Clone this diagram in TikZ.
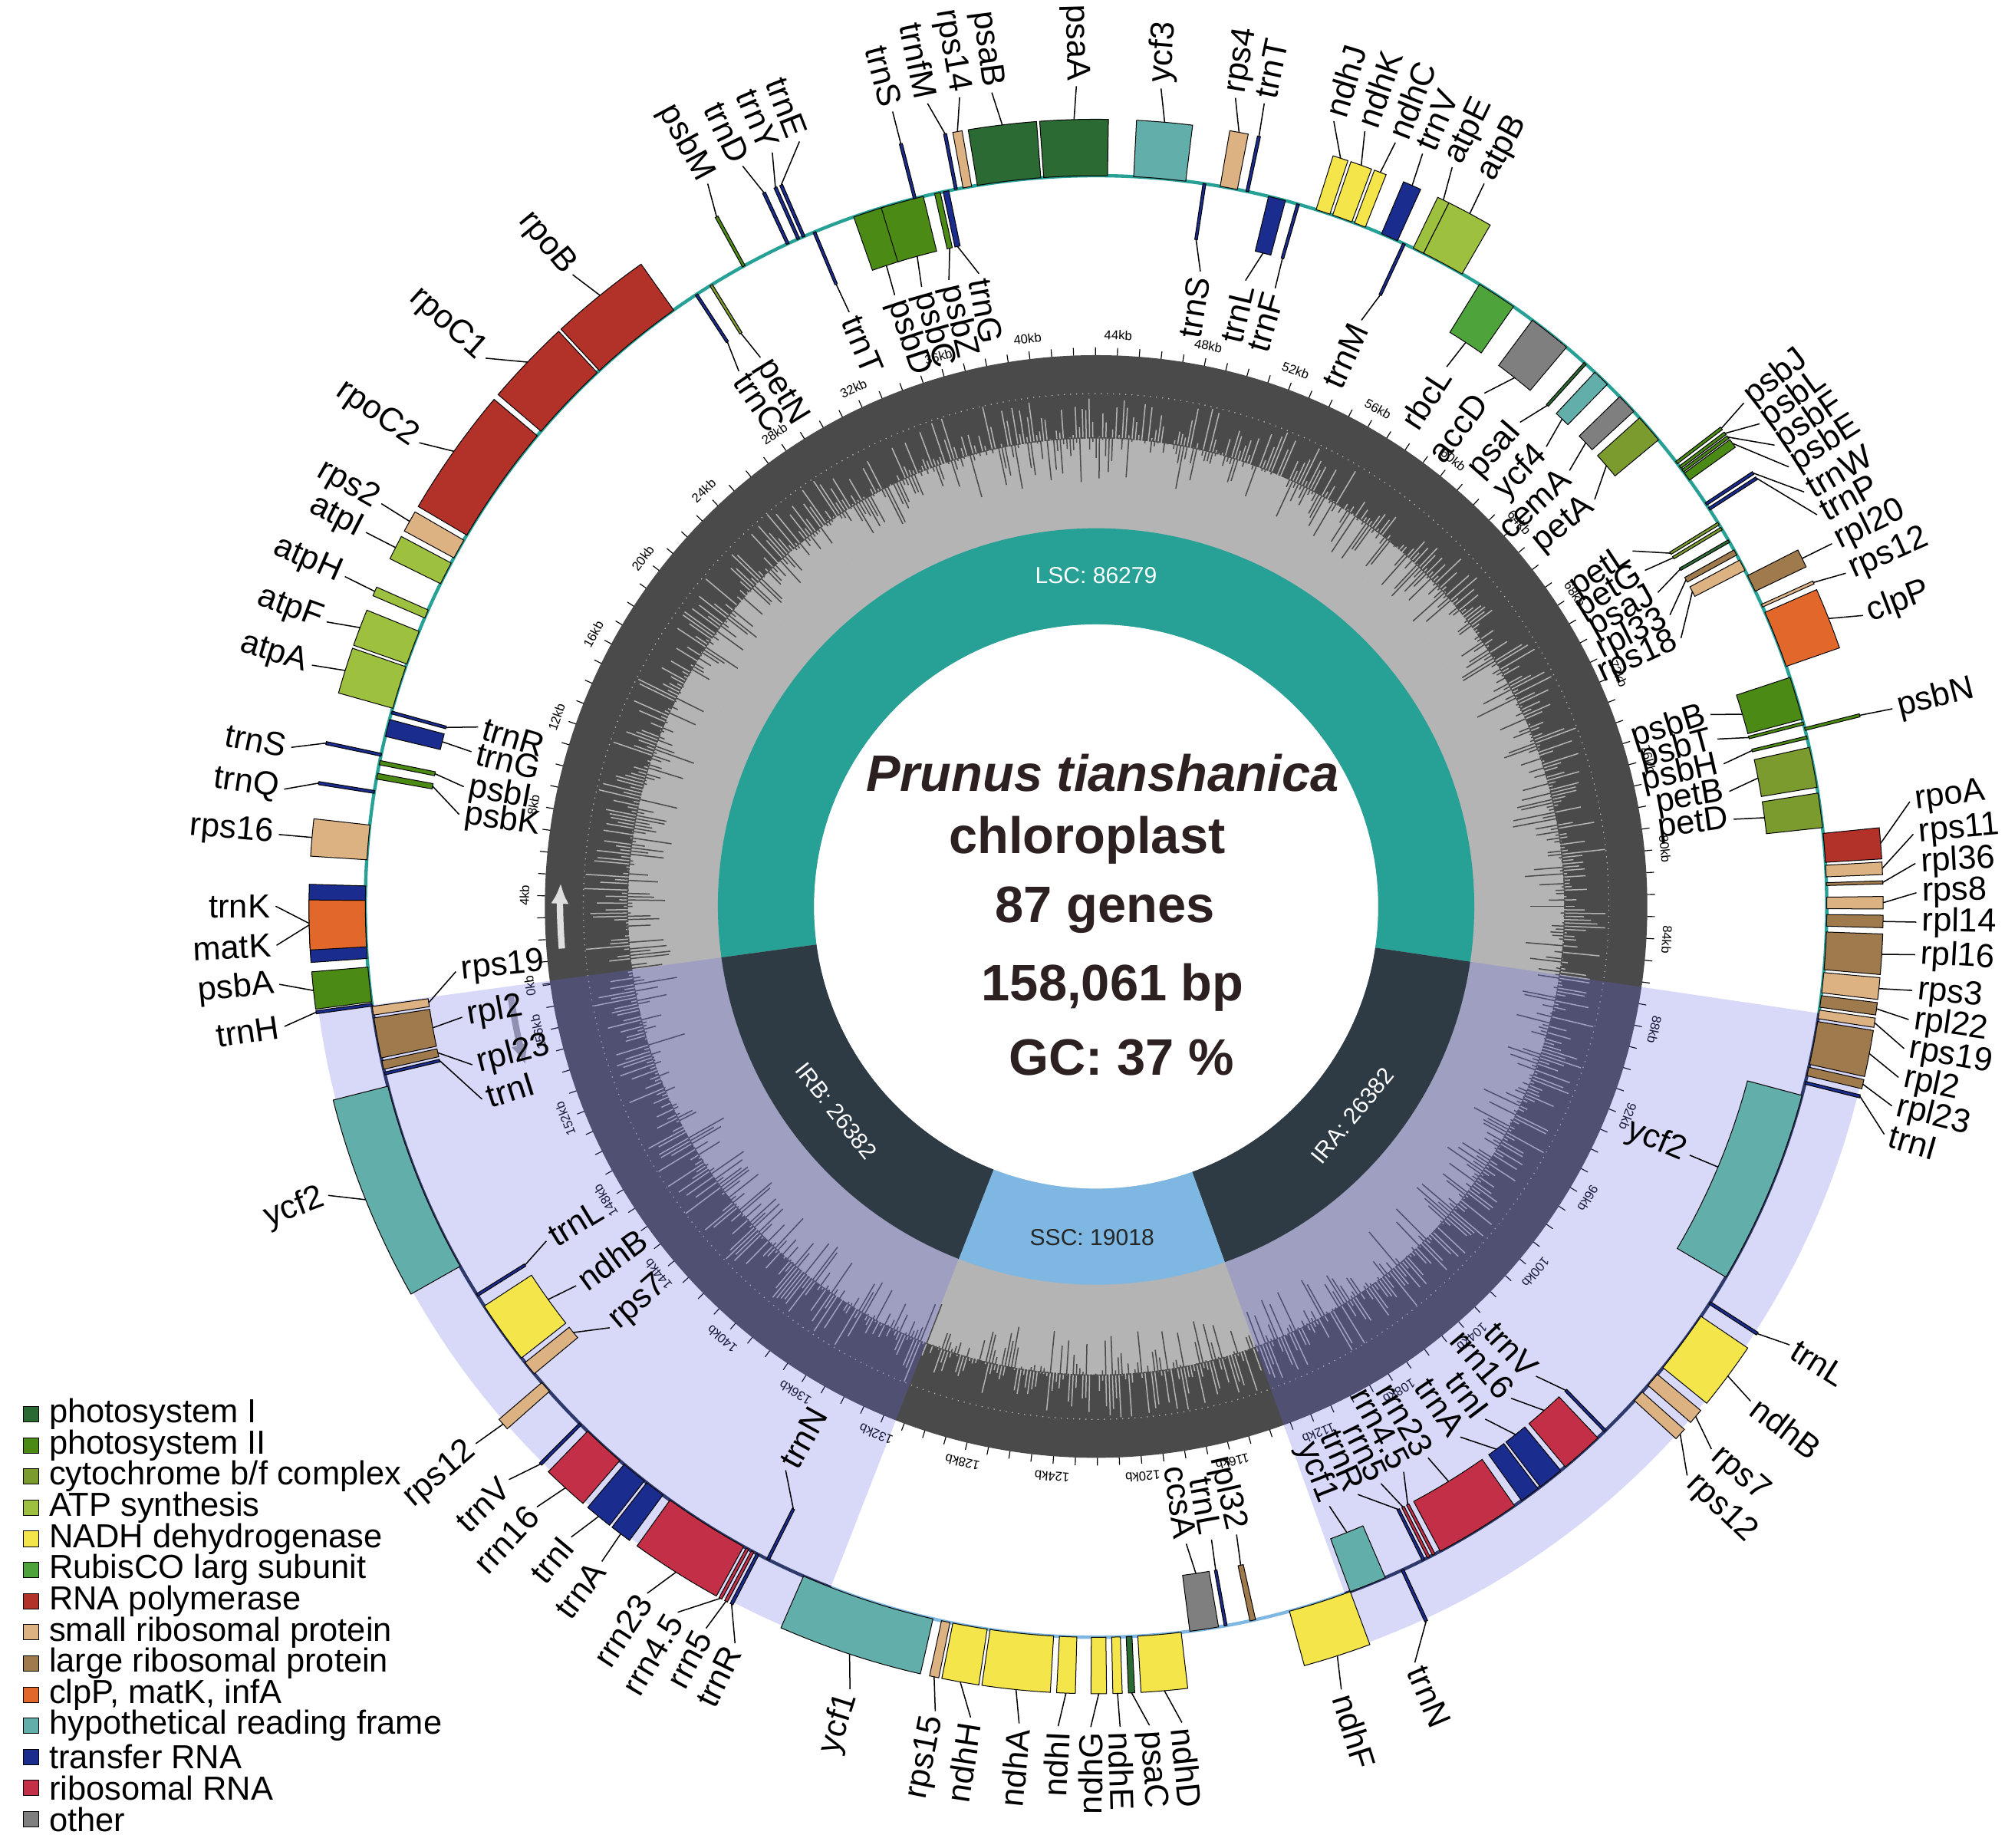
\documentclass[tikz,border=0pt]{standalone}
\usepackage{fontspec}
\setmainfont{Liberation Sans}
\usetikzlibrary{arrows.meta}
\definecolor{psi}{HTML}{2B6A33}
\definecolor{psii}{HTML}{4B8B15}
\definecolor{cytb}{HTML}{7B9B2E}
\definecolor{atp}{HTML}{9DC03E}
\definecolor{nadh}{HTML}{F4E64A}
\definecolor{rubisco}{HTML}{4EA43B}
\definecolor{rnap}{HTML}{B23129}
\definecolor{ssu}{HTML}{DCB283}
\definecolor{lsu}{HTML}{9E7A4C}
\definecolor{clp}{HTML}{E2672A}
\definecolor{hyp}{HTML}{62AEAA}
\definecolor{trna}{HTML}{1A2D8F}
\definecolor{rrna}{HTML}{C32F46}
\definecolor{other}{HTML}{7F7F7F}
\definecolor{gdark}{HTML}{4A4A4A}
\definecolor{glight}{HTML}{B4B4B4}
\definecolor{irov}{RGB}{100,100,235}
\definecolor{lscc}{HTML}{27A096}
\definecolor{irc}{HTML}{2E3B45}
\definecolor{sscc}{HTML}{7DB7E2}
\definecolor{irline}{HTML}{2D3A6B}
\definecolor{ttl}{HTML}{2D2020}
\newcommand\annfill[5]{\fill[#1] (#2:#5) arc[start angle=#2,end angle=#3,radius=#5] -- (#3:#4) arc[start angle=#3,end angle=#2,radius=#4] -- cycle;}
\tikzset{glab/.style={inner sep=0pt,font=\fontsize{13}{13}\selectfont},
  leglab/.style={anchor=west,inner sep=0pt,font=\fontsize{13}{13}\selectfont}}
\begin{document}
\begin{tikzpicture}[x=0.5pt,y=0.5pt]
\useasboundingbox (0,0) rectangle (1564,-1441);
\fill[white] (0,0) rectangle (1564,-1441);
\begin{scope}[shift={(855,-707)}]
% GC ring
\fill[gdark] (0,0) circle[radius=430];
\fill[glight] (0,0) circle[radius=365];
\pgfmathsetseed{5}
\foreach \i in {0,...,899}{
  \pgfmathsetmacro\a{\i*0.4}
  \pgfmathsetmacro\hl{365+35*rnd^2}
  \pgfmathsetmacro\dl{366-35*rnd^3}
  \draw[glight,line width=0.45pt] (\a:360) -- (\a:\hl);
  \draw[gdark,line width=0.45pt] (\a:\dl) -- (\a:366);
}
\draw[gray!60,dotted,line width=0.4pt] (0,0) circle[radius=330];
\draw[gray!60,dotted,line width=0.4pt] (0,0) circle[radius=400];
% ticks
\foreach \k in {0,...,158}{
  \pgfmathsetmacro\t{188-2.2776*\k}
  \draw[black,line width=0.35pt] (\t:430) -- (\t:436);
}
\foreach \k in {0,4,...,156}{
  \pgfmathsetmacro\t{188-2.2776*\k}
  \node[inner sep=0pt,rotate=\t-90,font=\fontsize{5}{5}\selectfont] at (\t:446) {\k kb};
}
% arrows
\draw[-{Latex[length=8pt,width=7pt]},gray!25,line width=2.5pt] (184.5:418) arc[start angle=184.5,end angle=177.5,radius=418];
\draw[-{Latex[length=8pt,width=7pt]},gray!75,line width=2.5pt] (188.5:462) arc[start angle=188.5,end angle=195.5,radius=462];
% IR overlays
\fill[irov,opacity=0.25] (0,0) -- (-8.4:612) arc[start angle=-8.4,end angle=-70.1,radius=612] -- cycle;
\fill[irov,opacity=0.25] (0,0) -- (-111.3:612) arc[start angle=-111.3,end angle=-172.25,radius=612] -- cycle;
% inner ring
\annfill{lscc}{187.75}{-8.4}{220}{295}
\annfill{irc}{-8.4}{-70.1}{220}{295}
\annfill{sscc}{-70.1}{-111.3}{220}{295}
\annfill{irc}{-111.3}{-172.25}{220}{295}
\fill[white] (0,0) circle[radius=220];
\node[white,font=\fontsize{9}{9}\selectfont] at (90:258) {LSC: 86279};
\node[white,font=\fontsize{9}{9}\selectfont,rotate=50.8] at (-39.2:258) {IRA: 26382};
\node[black!85,font=\fontsize{9}{9}\selectfont] at (-90.7:258) {SSC: 19018};
\node[white,font=\fontsize{9}{9}\selectfont,rotate=-51.8] at (-141.8:258) {IRB: 26382};
% center text
\node[ttl,font=\fontsize{20}{20}\selectfont\bfseries\itshape] at (5,104) {Prunus tianshanica};
\node[ttl,font=\fontsize{20}{20}\selectfont\bfseries] at (-7,52) {chloroplast};
\node[ttl,font=\fontsize{20}{20}\selectfont\bfseries] at (7,-3) {87 genes};
\node[ttl,font=\fontsize{20}{20}\selectfont\bfseries] at (13,-63) {158,061 bp};
\node[ttl,font=\fontsize{20}{20}\selectfont\bfseries] at (20,-118) {GC: 37 \%};
% genome circle
\draw[lscc,line width=1.3pt] (187.75:570) arc[start angle=187.75,end angle=-8.4,radius=570];
\draw[irline,line width=1.3pt] (-8.4:570) arc[start angle=-8.4,end angle=-70.1,radius=570];
\draw[sscc,line width=1.3pt] (-70.1:570) arc[start angle=-70.1,end angle=-111.3,radius=570];
\draw[irline,line width=1.3pt] (-111.3:570) arc[start angle=-111.3,end angle=-172.25,radius=570];
% genes
\foreach \s/\e/\gc/\d/\lp/\n in {
0.95/1.05/trna/1/0.7/trnH, 1.1/2.3/psii/1/2.0/psbA, 2.6/5.1/trna/1/4.4/trnK, 3.0/4.6/clp/1/3.2/matK,
6.0/7.2/ssu/1/6.6/rps16, 8.3/8.4/trna/1/8.0/trnQ, 8.8/9.0/psii/-1/8.0/psbK, 9.3/9.45/psii/-1/9.1/psbI,
9.6/9.7/trna/1/9.3/trnS, 10.3/10.9/trna/-1/10.5/trnG, 11.1/11.2/trna/-1/11.5/trnR,
11.3/12.8/atp/1/11.9/atpA, 12.9/14.1/atp/1/13.3/atpF, 14.6/14.9/atp/1/14.8/atpH, 15.9/16.7/atp/1/16.3/atpI,
16.9/17.6/ssu/1/17.3/rps2, 17.8/22.0/rnap/1/19.5/rpoC2, 22.2/25.0/rnap/1/22.8/rpoC1, 25.1/28.4/rnap/1/26.5/rpoB,
29.3/29.4/trna/-1/29.1/trnC, 29.9/30.0/cytb/-1/30.1/petN, 31.2/31.3/psii/1/31.5/psbM,
32.9/33.0/trna/1/32.7/trnD, 33.3/33.4/trna/1/33.7/trnY, 33.5/33.6/trna/1/34.6/trnE, 33.9/34.0/trna/-1/34.0/trnT,
35.4/36.5/psii/-1/35.9/psbD, 36.4/37.9/psii/-1/37.0/psbC, 37.55/37.65/trna/1/37.6/trnS,
38.3/38.5/psii/-1/38.1/psbZ, 38.6/38.8/trna/-1/39.3/trnG, 39.0/39.1/trna/1/38.7/trnfM,
39.3/39.6/ssu/1/39.7/rps14, 39.8/42.0/psi/1/40.7/psaB, 42.1/44.3/psi/1/43.3/psaA, 45.2/47.0/hyp/1/45.9/ycf3,
47.6/47.7/trna/-1/48.0/trnS, 48.2/48.8/ssu/1/48.2/rps4, 49.1/49.2/trna/1/49.1/trnT, 49.9/50.5/trna/-1/49.8/trnL,
50.9/51.0/trna/-1/51.0/trnF, 51.6/52.1/nadh/1/51.3/ndhJ, 52.2/52.9/nadh/1/52.3/ndhK, 53.0/53.4/nadh/1/53.3/ndhC,
54.0/54.6/trna/1/54.2/trnV, 54.8/54.9/trna/-1/54.6/trnM, 55.2/55.6/atp/1/55.2/atpE, 55.6/57.1/atp/1/56.3/atpB,
57.8/59.2/rubisco/-1/58.4/rbcL, 60.0/61.5/other/-1/60.2/accD, 62.3/62.4/psi/-1/62.0/psaI, 62.8/63.4/hyp/-1/63.4/ycf4,
64.0/64.7/other/-1/64.7/cemA, 65.0/66.0/cytb/-1/66.2/petA,
66.95/67.05/psii/1/66.8/psbJ, 67.15/67.25/psii/1/67.6/psbL, 67.3/67.4/psii/1/68.4/psbF, 67.45/67.75/psii/1/69.2/psbE,
68.7/68.8/trna/1/70.1/trnW, 68.9/69.0/trna/1/70.9/trnP, 69.5/69.6/cytb/-1/68.7/petL, 69.7/69.8/cytb/-1/69.6/petG,
70.2/70.3/psi/-1/70.6/psaJ, 70.6/70.8/lsu/-1/71.6/rpl33, 71.0/71.4/ssu/-1/72.6/rps18,
71.6/72.2/lsu/1/71.9/rpl20, 72.7/72.8/ssu/1/72.9/rps12, 73.0/75.0/clp/1/74.3/clpP,
75.4/76.9/psii/-1/75.8/psbB, 77.0/77.1/psii/-1/76.8/psbT, 77.2/77.3/psii/1/77.3/psbN, 77.5/77.6/psii/-1/77.8/psbH,
77.9/79.3/cytb/-1/78.9/petB, 79.5/80.7/cytb/-1/80.0/petD,
80.9/81.9/rnap/1/80.2/rpoA, 82.0/82.4/ssu/1/81.2/rps11, 82.6/82.7/lsu/1/82.1/rpl36, 83.1/83.5/ssu/1/83.0/rps8,
83.7/84.1/lsu/1/83.9/rpl14, 84.3/85.6/lsu/1/84.9/rpl16, 85.7/86.4/ssu/1/86.0/rps3, 86.5/86.9/lsu/1/86.9/rpl22,
87.0/87.3/ssu/1/87.8/rps19, 87.4/88.9/lsu/1/88.7/rpl2, 89.0/89.3/lsu/1/89.6/rpl23, 89.5/89.6/trna/1/90.5/trnI,
90.0/96.8/hyp/-1/93.4/ycf2, 97.8/97.9/trna/1/97.6/trnL, 98.4/100.6/nadh/1/99.7/ndhB, 100.9/101.4/ssu/1/101.6/rps7,
101.7/102.1/ssu/1/102.7/rps12, 103.5/103.6/trna/-1/104.0/trnV, 103.9/105.4/rrna/-1/105.3/rrn16,
105.6/106.5/trna/-1/106.6/trnI, 106.6/107.3/trna/-1/107.8/trnA, 107.6/110.6/rrna/-1/109.3/rrn23,
110.8/110.9/rrna/-1/110.4/rrn4.5, 111.0/111.1/rrna/-1/111.4/rrn5, 111.2/111.3/trna/-1/112.4/trnR,
112.0/112.1/trna/1/112.9/trnN, 112.7/114.0/hyp/-1/113.6/ycf1,
114.0/116.2/nadh/1/115.3/ndhF, 117.4/117.6/lsu/-1/117.4/rpl32, 118.4/118.5/trna/-1/118.4/trnL,
118.7/119.7/other/-1/119.4/ccsA, 120.0/121.5/nadh/1/120.3/ndhD, 121.7/121.9/psi/1/121.3/psaC,
122.1/122.4/nadh/1/122.2/ndhE, 122.6/123.1/nadh/1/123.1/ndhG, 123.6/124.2/nadh/1/124.1/ndhI,
124.4/126.6/nadh/1/125.3/ndhA, 126.7/127.9/nadh/1/126.8/ndhH, 128.0/128.3/ssu/1/127.9/rps15,
128.6/133.3/hyp/1/130.6/ycf1,
134.6/134.7/trna/-1/135.6/trnN, 135.0/135.1/trna/1/134.4/trnR, 135.2/135.3/rrna/1/135.4/rrn5,
135.4/135.5/rrna/1/136.4/rrn4.5, 135.6/138.6/rrna/1/137.5/rrn23, 138.9/139.6/trna/1/139.2/trnA,
139.7/140.6/trna/1/140.4/trnI, 140.8/142.3/rrna/1/141.8/rrn16, 142.6/142.7/trna/1/143.0/trnV,
144.2/144.6/ssu/1/144.5/rps12, 145.0/145.5/ssu/-1/144.5/rps7, 145.7/147.9/nadh/-1/146.6/ndhB,
148.3/148.4/trna/-1/148.7/trnL, 149.5/156.2/hyp/1/153.4/ycf2, 156.6/156.7/trna/-1/154.8/trnI,
156.8/157.1/lsu/-1/156.2/rpl23, 157.2/158.6/lsu/-1/158.1/rpl2, 158.7/159.0/ssu/-1/159.9/rps19}{
  \pgfmathsetmacro\ga{190-2.2776*\s}
  \pgfmathsetmacro\gb{190-2.2776*\e}
  \pgfmathsetmacro\gm{(\ga+\gb)/2}
  \pgfmathsetmacro\gl{190-2.2776*\lp}
  \ifnum\d=1 \def\ra{570}\def\rb{614}\def\rc{640}\def\rt{644}\def\re{614}\else
    \def\ra{526}\def\rb{570}\def\rc{502}\def\rt{498}\def\re{526}\fi
  \pgfmathtruncatemacro\rs{cos(\gl)>=0?1:0}
  \pgfmathsetmacro\rot{\rs==1?\gl:\gl+180}
  \pgfmathtruncatemacro\w{(2*\rs-1==\d)?1:0}
  \ifnum\w=1 \def\anc{west}\else\def\anc{east}\fi
  \annfill{fill=\gc,draw=black,line width=0.3pt}{\ga}{\gb}{\ra}{\rb}
  \draw[line width=0.45pt] (\gm:\re) -- (\gl:\rc);
  \node[glab,anchor=\anc,rotate=\rot] at (\gl:\rt) {\n};
}
\end{scope}
% legend
\foreach \col/\txt [count=\i from 0] in {psi/photosystem I, psii/photosystem II, cytb/cytochrome b\slash f complex,
  atp/ATP synthesis, nadh/NADH dehydrogenase, rubisco/RubisCO larg subunit, rnap/RNA polymerase,
  ssu/small ribosomal protein, lsu/large ribosomal protein, clp/{clpP, matK, infA}, hyp/hypothetical reading frame,
  trna/transfer RNA, rrna/ribosomal RNA, other/other}{
  \pgfmathsetmacro\yy{-1103-24.3*\i}
  \fill[\col,draw=black,line width=0.3pt] (18,\yy-6) rectangle (30,\yy+6);
  \node[leglab] at (38,\yy) {\txt};
}
\end{tikzpicture}
\end{document}
